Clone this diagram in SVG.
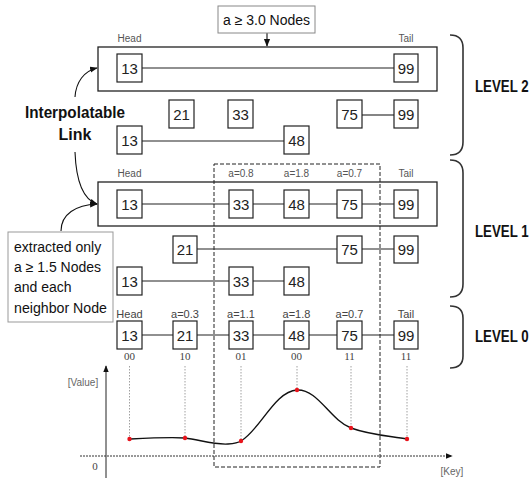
<svg xmlns="http://www.w3.org/2000/svg" width="531" height="478" viewBox="0 0 531 478">
<defs>
<style>
.nb{fill:#fff;stroke:#222;stroke-width:1.2}
.nt{font-family:"Liberation Sans",Arial,sans-serif;font-size:15px;fill:#222;text-anchor:middle}
.sl{font-family:"Liberation Sans",Arial,sans-serif;font-size:10px;fill:#555;text-anchor:middle}
.sl0{font-family:"Liberation Sans",Arial,sans-serif;font-size:11px;fill:#444;text-anchor:middle}
.bits{font-family:"Liberation Serif","Times New Roman",serif;font-size:11px;fill:#444;text-anchor:middle}
.ln{stroke:#222;stroke-width:1.1;fill:none}
.frame{fill:none;stroke:#222;stroke-width:1.3}
.brace{fill:none;stroke:#333;stroke-width:1.6}
.lvl{font-family:"Liberation Sans",Arial,sans-serif;font-size:16px;font-weight:bold;fill:#111}
.note{font-family:"Liberation Sans",Arial,sans-serif;font-size:14px;fill:#111}
.dot{fill:#e8141c}
.vd{stroke:#888;stroke-width:0.8;stroke-dasharray:1.5,1.5}
</style>
<marker id="ah" viewBox="0 0 10 10" refX="9" refY="5" markerWidth="7" markerHeight="7" orient="auto">
<path d="M0,1 L10,5 L0,9 Z" fill="#111"/>
</marker>
</defs>
<rect width="531" height="478" fill="#fff"/>

<!-- frames -->
<rect class="frame" x="98" y="47" width="339" height="44"/>
<rect class="frame" x="98" y="182" width="339" height="44"/>
<rect x="214" y="164" width="166" height="303" fill="none" stroke="#222" stroke-width="1" stroke-dasharray="4,2"/>

<!-- connectors -->
<g id="connectors">
<line class="ln" x1="142" y1="68" x2="394" y2="68"/>
<line class="ln" x1="362" y1="115" x2="394" y2="115"/>
<line class="ln" x1="142" y1="141" x2="284" y2="141"/>
<line class="ln" x1="142" y1="204" x2="394" y2="204"/>
<line class="ln" x1="197" y1="249" x2="394" y2="249"/>
<line class="ln" x1="142" y1="281" x2="284" y2="281"/>
<line class="ln" x1="142" y1="335" x2="394" y2="335"/>
<line x1="267" y1="33" x2="267" y2="46" stroke="#111" stroke-width="1.1" marker-end="url(#ah)"/>
<path d="M75,97 C76,82 84,71 97,68" fill="none" stroke="#111" stroke-width="1.1" marker-end="url(#ah)"/>
<path d="M75,152 C76,178 82,199 97,204" fill="none" stroke="#111" stroke-width="1.1" marker-end="url(#ah)"/>
<path d="M61,231 C61,214 76,205 97,204" fill="none" stroke="#111" stroke-width="1.1" marker-end="url(#ah)"/>
</g>

<!-- Level 2 -->
<g id="l2-13"><rect class="nb" x="117" y="54" width="25" height="28"/><text class="nt" x="129.5" y="74">13</text></g>
<g id="l2-99"><rect class="nb" x="394" y="54" width="24" height="28"/><text class="nt" x="406" y="74">99</text></g>
<g id="l2-21"><rect class="nb" x="169" y="100" width="25" height="28"/><text class="nt" x="181.5" y="120">21</text></g>
<g id="l2-33"><rect class="nb" x="228" y="100" width="25" height="28"/><text class="nt" x="240.5" y="120">33</text></g>
<g id="l2-75"><rect class="nb" x="337" y="100" width="25" height="28"/><text class="nt" x="349.5" y="120">75</text></g>
<g id="l2-99b"><rect class="nb" x="394" y="100" width="24" height="28"/><text class="nt" x="406" y="120">99</text></g>
<g id="l2-13b"><rect class="nb" x="117" y="126" width="25" height="28"/><text class="nt" x="129.5" y="146">13</text></g>
<g id="l2-48"><rect class="nb" x="284" y="126" width="25" height="28"/><text class="nt" x="296.5" y="146">48</text></g>
<text class="sl" x="129.5" y="42">Head</text>
<text class="sl" x="406" y="42">Tail</text>

<!-- Level 1 -->
<text class="sl" x="129.5" y="177">Head</text>
<text class="sl" x="241" y="177">a=0.8</text>
<text class="sl" x="296.5" y="177">a=1.8</text>
<text class="sl" x="349.5" y="177">a=0.7</text>
<text class="sl" x="406" y="177">Tail</text>
<g id="l1-13"><rect class="nb" x="117" y="190" width="25" height="28"/><text class="nt" x="129.5" y="210">13</text></g>
<g id="l1-33"><rect class="nb" x="229" y="190" width="24" height="28"/><text class="nt" x="241" y="210">33</text></g>
<g id="l1-48"><rect class="nb" x="284" y="190" width="25" height="28"/><text class="nt" x="296.5" y="210">48</text></g>
<g id="l1-75"><rect class="nb" x="337" y="190" width="25" height="28"/><text class="nt" x="349.5" y="210">75</text></g>
<g id="l1-99"><rect class="nb" x="394" y="190" width="24" height="28"/><text class="nt" x="406" y="210">99</text></g>
<g id="l1-21"><rect class="nb" x="173" y="236" width="24" height="27"/><text class="nt" x="185" y="255">21</text></g>
<g id="l1-75b"><rect class="nb" x="337" y="236" width="25" height="27"/><text class="nt" x="349.5" y="255">75</text></g>
<g id="l1-99b"><rect class="nb" x="394" y="236" width="24" height="27"/><text class="nt" x="406" y="255">99</text></g>
<g id="l1-13b"><rect class="nb" x="117" y="267" width="25" height="28"/><text class="nt" x="129.5" y="287">13</text></g>
<g id="l1-33b"><rect class="nb" x="229" y="267" width="24" height="28"/><text class="nt" x="241" y="287">33</text></g>
<g id="l1-48b"><rect class="nb" x="284" y="267" width="25" height="28"/><text class="nt" x="296.5" y="287">48</text></g>

<!-- Level 0 -->
<text class="sl0" x="129.5" y="318">Head</text>
<text class="sl0" x="185" y="318">a=0.3</text>
<text class="sl0" x="241" y="318">a=1.1</text>
<text class="sl0" x="296.5" y="318">a=1.8</text>
<text class="sl0" x="349.5" y="318">a=0.7</text>
<text class="sl0" x="406" y="318">Tail</text>
<g id="l0-13"><rect class="nb" x="117" y="321" width="25" height="28"/><text class="nt" x="129.5" y="341">13</text></g>
<g id="l0-21"><rect class="nb" x="173" y="321" width="24" height="28"/><text class="nt" x="185" y="341">21</text></g>
<g id="l0-33"><rect class="nb" x="229" y="321" width="24" height="28"/><text class="nt" x="241" y="341">33</text></g>
<g id="l0-48"><rect class="nb" x="284" y="321" width="25" height="28"/><text class="nt" x="296.5" y="341">48</text></g>
<g id="l0-75"><rect class="nb" x="337" y="321" width="25" height="28"/><text class="nt" x="349.5" y="341">75</text></g>
<g id="l0-99"><rect class="nb" x="394" y="321" width="24" height="28"/><text class="nt" x="406" y="341">99</text></g>
<text class="bits" x="129.5" y="360">00</text>
<text class="bits" x="185" y="360">10</text>
<text class="bits" x="241" y="360">01</text>
<text class="bits" x="296.5" y="360">00</text>
<text class="bits" x="349.5" y="360">11</text>
<text class="bits" x="406" y="360">11</text>

<!-- top note -->
<g id="note-top"><rect x="218" y="6" width="97" height="27" fill="#fff" stroke="#888" stroke-width="1"/><text class="note" x="266.5" y="25" text-anchor="middle">a ≥ 3.0 Nodes</text></g>

<!-- interpolatable link -->
<g id="interp"><text class="lvl" x="75" y="118" text-anchor="middle" textLength="100" lengthAdjust="spacingAndGlyphs">Interpolatable</text><text class="lvl" x="75" y="140" text-anchor="middle">Link</text></g>

<!-- extracted note -->
<g id="note-extract"><rect x="8" y="232" width="105" height="90" fill="#fff" stroke="#999" stroke-width="1"/>
<text class="note" x="14" y="252">extracted only</text>
<text class="note" x="14" y="272">a ≥ 1.5 Nodes</text>
<text class="note" x="14" y="292">and each</text>
<text class="note" x="14" y="313" textLength="93" lengthAdjust="spacingAndGlyphs">neighbor Node</text></g>

<!-- braces -->
<g id="level2"><path class="brace" d="M450,35 Q463,35 463,48 L463,142 Q463,155 450,155"/><text class="lvl" transform="translate(475,92) scale(0.83,1)">LEVEL 2</text></g>
<g id="level1"><path class="brace" d="M450,160 Q463,160 463,173 L463,284 Q463,297 450,297"/><text class="lvl" transform="translate(475,237) scale(0.83,1)">LEVEL 1</text></g>
<g id="level0"><path class="brace" d="M450,306 Q463,306 463,318 L463,356 Q463,368 450,368"/><text class="lvl" transform="translate(475,342) scale(0.83,1)">LEVEL 0</text></g>

<!-- graph -->
<g id="graph">
<line x1="106" y1="478" x2="106" y2="366" stroke="#222" stroke-width="1" marker-end="url(#ah)"/>
<line x1="80" y1="456" x2="452" y2="456" stroke="#333" stroke-width="1" stroke-dasharray="2,1" marker-end="url(#ah)"/>
<text x="83" y="386" font-family="Liberation Sans,Arial,sans-serif" font-size="10" fill="#666" text-anchor="middle">[Value]</text>
<text x="95" y="470" font-family="Liberation Serif,serif" font-size="11" fill="#444" text-anchor="middle">0</text>
<text x="452" y="475" font-family="Liberation Sans,Arial,sans-serif" font-size="10" fill="#666" text-anchor="middle">[Key]</text>
<line class="vd" x1="129.5" y1="366" x2="129.5" y2="439"/>
<line class="vd" x1="185" y1="366" x2="185" y2="438"/>
<line class="vd" x1="241" y1="366" x2="241" y2="441"/>
<line class="vd" x1="297" y1="366" x2="297" y2="390"/>
<line class="vd" x1="351" y1="366" x2="351" y2="428"/>
<line class="vd" x1="407" y1="366" x2="407" y2="439"/>
<path d="M129.5,439 C150,438 170,437 185,438 C200,440 215,445 228,444 C235,443.5 238,443 241,441 C260,430 275,391 297,390 C318,389 330,420 351,428 C370,435 390,436 407,439" fill="none" stroke="#111" stroke-width="1.4"/>
<circle class="dot" cx="129.5" cy="439" r="2.2"/>
<circle class="dot" cx="185" cy="438" r="2.2"/>
<circle class="dot" cx="241" cy="441" r="2.2"/>
<circle class="dot" cx="297" cy="390" r="2.2"/>
<circle class="dot" cx="351" cy="428" r="2.2"/>
<circle class="dot" cx="407" cy="439" r="2.2"/>
</g>
</svg>
